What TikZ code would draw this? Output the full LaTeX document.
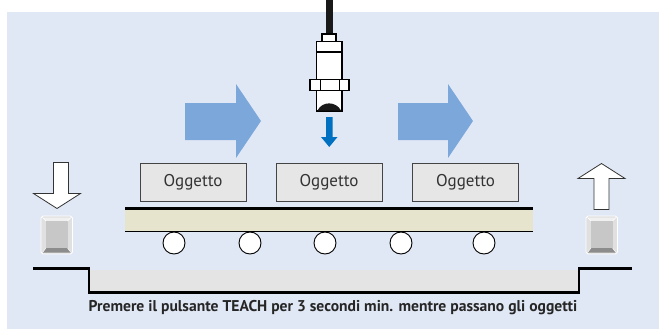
\documentclass[tikz,border=0pt]{standalone}
\usepackage{fontspec}
\setmainfont{PT Sans}
\begin{document}
\begin{tikzpicture}[x=1pt,y=-1pt,
  panelbg/.style={fill=panel},
  bigarrow/.style={fill=flowblue},
  objbox/.style={draw=boxline,line width=1pt,fill=boxfill,minimum width=106pt,minimum height=38pt,inner sep=0pt,font=\fontsize{17}{19}\selectfont,text=textgray},
  roller/.style={circle,draw=black,line width=0.9pt,fill=white,minimum size=22pt,inner sep=0pt},
  whitearrow/.style={fill=white,draw=black!80,line width=0.8pt},
  sensorpart/.style={fill=white,draw=black,line width=1.6pt},
  caption/.style={font=\bfseries\fontsize{15.6}{18}\selectfont,text=black!85}]
\definecolor{panel}{HTML}{E1E8F5}
\definecolor{flowblue}{HTML}{7BA7DA}
\definecolor{beamblue}{HTML}{0070C0}
\definecolor{boxfill}{HTML}{E6E6E6}
\definecolor{boxline}{HTML}{444444}
\definecolor{textgray}{HTML}{333333}
\definecolor{beltfill}{HTML}{E6E4CC}
\definecolor{recess}{HTML}{E4E4E4}
\useasboundingbox (0,0) rectangle (659,329);

% background panel
\fill[panelbg] (7,12) rectangle (659,329);

% flow arrows
\fill[bigarrow] (185,103) -- (236,103) -- (236,84) -- (261,121) -- (236,158) -- (236,140) -- (185,140) -- cycle;
\fill[bigarrow] (398,103) -- (448,103) -- (448,84) -- (473,121) -- (448,158) -- (448,140) -- (398,140) -- cycle;

% sensor: cable, cap, body, nut, sensing face
\fill[black!90] (326,0) rectangle (333,35);
\draw[sensorpart,line width=1.2pt] (322,34) rectangle (336,42);
\draw[sensorpart] (316.5,41.5) rectangle (342,111);
\draw[black,line width=1.2pt] (316.5,52) -- (342,52);
\draw[sensorpart] (310,79.5) rectangle (349,90.5);
\draw[black,line width=0.8pt] (320,79.5) -- (320,90.5) (339,79.5) -- (339,90.5);
\fill[black!90] (317.5,110.5) .. controls (322,101) and (336,101) .. (341,110.5) -- cycle;

% detection beam arrow
\fill[beamblue] (326,117) -- (332.5,117) -- (332.5,137) -- (337.5,137) -- (329.25,147) -- (321,137) -- (326,137) -- cycle;

% objects on the belt
\node[objbox] (o1) at (193,182.5) {Oggetto};
\node[objbox] (o2) at (329,182.5) {Oggetto};
\node[objbox] (o3) at (465.5,182.5) {Oggetto};

% conveyor belt
\fill[beltfill] (125,209) rectangle (533,231);
\draw[black,line width=3pt] (125,208.5) -- (533,208.5);
\draw[black,line width=0.8pt] (125,231) -- (533,231);

% rollers
\foreach \i/\x in {1/174,2/250,3/325,4/401,5/484}
  \node[roller] (r\i) at (\x,243) {};

% step profile of the base
\fill[recess] (89,270) rectangle (579,292);
\draw[black,line width=2.6pt] (33,268.5) -- (89,268.5) -- (89,292.5) -- (579,292.5) -- (579,268.5) -- (632,268.5);

% down arrow (left) and up arrow (right)
\draw[whitearrow] (53.5,162.5) -- (68.5,162.5) -- (68.5,193.5) -- (80.5,193.5) -- (57,208.5) -- (33.5,193.5) -- (53.5,193.5) -- cycle;
\draw[whitearrow] (594,209.5) -- (609,209.5) -- (609,178.5) -- (625,178.5) -- (601.5,163.5) -- (578,178.5) -- (594,178.5) -- cycle;

% TEACH buttons
\foreach \n/\bx in {bl/41,br/586}{
  \begin{scope}[shift={(\bx,216)}]
    \fill[black!12] (0,2) -- (2,0) -- (29.5,0) -- (31.5,2) -- (31.5,36) -- (29.5,38) -- (2,38) -- (0,36) -- cycle;
    \draw[white,line width=0.8pt] (0,2) -- (2,0) -- (29.5,0) -- (31.5,2) -- (31.5,36) -- (29.5,38) -- (2,38) -- (0,36) -- cycle;
    \fill[black!45] (1.5,36.5) -- (5,32) -- (26.5,32) -- (30,36.5) -- cycle;
    \fill[black!6] (1.5,1.5) -- (5,5) -- (26.5,5) -- (30,1.5) -- cycle;
    \fill[black!22] (5,5) rectangle (26.5,32);
    \draw[white,line width=0.5pt] (1.5,1.5) -- (5,5) (30,1.5) -- (26.5,5) (1.5,36.5) -- (5,32) (30,36.5) -- (26.5,32);
    \coordinate (\n) at (15.75,19);
  \end{scope}
}

% caption
\node[caption] (cap) at (333,308) {Premere il pulsante TEACH per 3 secondi min. mentre passano gli oggetti};
\end{tikzpicture}
\end{document}
